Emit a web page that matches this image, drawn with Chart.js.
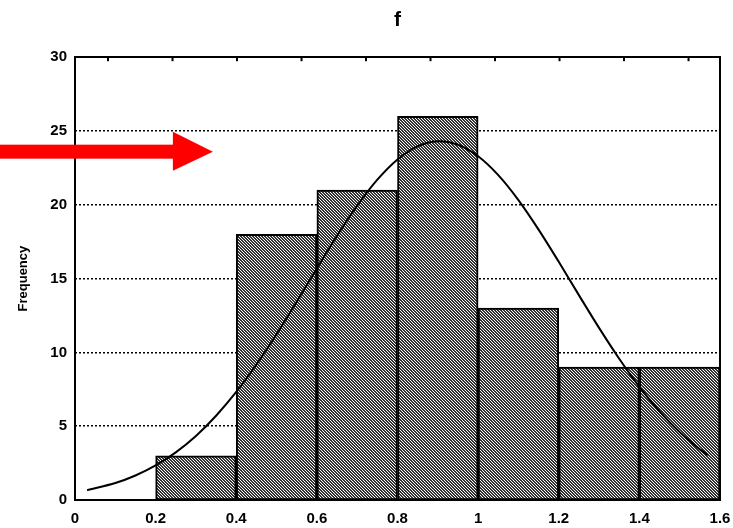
<!DOCTYPE html>
<html>
<head>
<meta charset="utf-8">
<script src="https://cdn.jsdelivr.net/npm/chart.js@4.4.0/dist/chart.umd.min.js"></script>
<style>
  html, body { margin: 0; padding: 0; background: #fff; }
  #wrap { width: 733px; height: 528px; position: relative; }
</style>
</head>
<body>
<div id="wrap"><canvas id="histChart"></canvas></div>
<script>
// histogram bins (edges) and counts
const binEdges = [0.2, 0.4, 0.6, 0.8, 1.0, 1.2, 1.4, 1.6];
const counts = [3, 18, 21, 26, 13, 9, 9];

// fitted curve
const curveX = [0.03, 0.1, 0.15, 0.2, 0.25, 0.3, 0.35, 0.4, 0.45, 0.5, 0.55, 0.6, 0.65, 0.7, 0.75, 0.8, 0.85, 0.9,
  0.95, 1.0, 1.05, 1.1, 1.15, 1.2, 1.25, 1.3, 1.35, 1.4, 1.45, 1.5, 1.55, 1.57];
const curveY = [0.66, 1.15, 1.66, 2.34, 3.23, 4.34, 5.71, 7.32, 9.18, 11.23, 13.43, 15.69, 17.9, 19.94, 21.7, 23.07, 23.96, 24.3,
  24.07, 23.29, 22.01, 20.32, 18.32, 16.14, 13.88, 11.66, 9.57, 7.67, 6.01, 4.6, 3.43, 3.04];

const xTicks = [0, 0.2, 0.4, 0.6, 0.8, 1, 1.2, 1.4, 1.6];
const yTicks = [0, 5, 10, 15, 20, 25, 30];

const arrowTip = { x: 0.342, y: 23.6 };

function hatch() {
  var c = document.createElement("canvas");
  c.width = 3; c.height = 3;
  var g = c.getContext("2d");
  var img = g.createImageData(3, 3);
  for (var y = 0; y < 3; y++) {
    for (var x = 0; x < 3; x++) {
      var i = (y * 3 + x) * 4;
      var v = ((x - y + 3) % 3 === 0) ? 250 : 50;
      img.data[i] = v; img.data[i + 1] = v; img.data[i + 2] = v; img.data[i + 3] = 255;
    }
  }
  g.putImageData(img, 0, 0);
  return g.createPattern(c, "repeat");
}

const extras = {
  id: "extras",
  afterDraw: function(chart) {
    var ctx = chart.ctx, a = chart.chartArea;
    var xs = chart.scales.x, ys = chart.scales.y, top = chart.scales.xTop;
    ctx.save();
    // inward tick marks on the top frame
    ctx.strokeStyle = "#000"; ctx.lineWidth = 2;
    for (var k = 0; k <= 9; k++) {
      var px = top.getPixelForValue(k);
      ctx.beginPath(); ctx.moveTo(px, a.top); ctx.lineTo(px, a.top + 4); ctx.stroke();
    }
    // red arrow
    var tx = xs.getPixelForValue(arrowTip.x), ty = ys.getPixelForValue(arrowTip.y);
    ctx.fillStyle = "#ff0000";
    ctx.fillRect(0, ty - 7, tx - 36, 14);
    ctx.beginPath();
    ctx.moveTo(tx, ty);
    ctx.lineTo(tx - 40, ty - 20);
    ctx.lineTo(tx - 40, ty + 19);
    ctx.closePath();
    ctx.fill();
    ctx.restore();
  }
};

const tickFont = { family: "'Liberation Sans', Arial, sans-serif", size: 15, weight: "bold" };

new Chart(document.getElementById("histChart"), {
  data: {
    datasets: [
      {
        type: "line",
        data: curveX.map(function(x, i) { return { x: x, y: curveY[i] }; }),
        borderColor: "#000",
        borderWidth: 2,
        pointRadius: 0,
        tension: 0.3,
        fill: false,
        order: 0
      },
      {
        type: "bar",
        data: counts.map(function(c, i) { return { x: (binEdges[i] + binEdges[i + 1]) / 2, y: c }; }),
        backgroundColor: hatch(),
        borderColor: "#000",
        borderWidth: 2,
        borderSkipped: false,
        barPercentage: 1,
        categoryPercentage: 1,
        order: 1
      }
    ]
  },
  options: {
    responsive: true,
    maintainAspectRatio: false,
    animation: false,
    layout: { padding: { left: 0, right: 0, top: 0, bottom: 0 } },
    plugins: {
      legend: { display: false },
      tooltip: { enabled: false },
      title: {
        display: true,
        fullSize: false,
        text: "f",
        color: "#000",
        font: { family: "'Liberation Sans', Arial, sans-serif", size: 21, weight: "bold", lineHeight: 1.2 },
        padding: { top: 8, bottom: 0 }
      }
    },
    scales: {
      x: {
        type: "linear",
        position: "bottom",
        offset: false,
        min: 0, max: 1.6,
        afterBuildTicks: function(s) { s.ticks = xTicks.map(function(v) { return { value: v }; }); },
        afterFit: function(s) { s.height = 28; s.paddingLeft = 0; s.paddingRight = 0; },
        grid: { display: false, drawTicks: false },
        border: { display: true, color: "#000", width: 2 },
        ticks: {
          color: "#000", font: tickFont, padding: 10, maxRotation: 0, autoSkip: false,
          callback: function(v) { return String(Math.round(v * 10) / 10); }
        }
      },
      xTop: {
        type: "linear",
        position: "top",
        min: -0.512, max: 9.488,
        afterFit: function(s) { s.height = 24; s.paddingLeft = 0; s.paddingRight = 0; },
        grid: { display: false, drawTicks: false },
        border: { display: true, color: "#000", width: 2 },
        ticks: { display: false }
      },
      yFrame: {
        type: "linear",
        position: "left",
        weight: 0,
        min: 0, max: 30,
        afterFit: function(s) { s.width = 0; },
        grid: { display: false, drawTicks: false },
        border: { display: true, color: "#000", width: 2 },
        ticks: { display: false }
      },
      y: {
        type: "linear",
        position: "left",
        weight: 1,
        min: 0, max: 30,
        afterBuildTicks: function(s) { s.ticks = yTicks.map(function(v) { return { value: v }; }); },
        afterFit: function(s) { s.width = 75; },
        grid: {
          drawTicks: false,
          color: function(c) { return (c.tick && (c.tick.value === 0 || c.tick.value === 30)) ? "rgba(0,0,0,0)" : "#000"; },
          lineWidth: 1.5
        },
        border: { display: false, dash: [2, 2] },
        ticks: { color: "#000", font: tickFont, padding: 8 },
        title: {
          display: true,
          text: "Frequency",
          color: "#000",
          font: { family: "'Liberation Sans', Arial, sans-serif", size: 13, weight: "bold" },
          padding: { top: 16, bottom: 0 }
        }
      },
      yRight: {
        type: "linear",
        position: "right",
        min: 0, max: 30,
        afterFit: function(s) { s.width = 13; },
        grid: { display: false, drawTicks: false },
        border: { display: true, color: "#000", width: 2 },
        ticks: { display: false }
      }
    }
  },
  plugins: [extras]
});
</script>
</body>
</html>
